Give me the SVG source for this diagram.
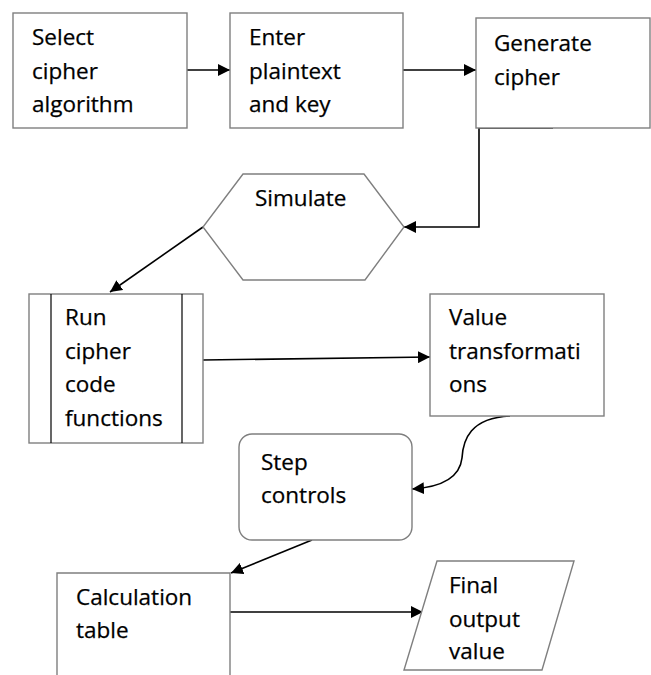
<svg xmlns="http://www.w3.org/2000/svg" width="651" height="675" viewBox="0 0 651 675">
<defs>
<marker id="arr" viewBox="0 0 10 10" refX="10" refY="5" markerWidth="12" markerHeight="12" markerUnits="userSpaceOnUse" orient="auto">
<path d="M0,0 L10,5 L0,10 Z" fill="#000"/>
</marker>
<style>
.shape{fill:#fff;stroke:#7f7f7f;stroke-width:1.4}
.lbl{font-family:"Open Sans","Noto Sans",sans-serif;font-size:22.5px;fill:#000;stroke:#000;stroke-width:0.25}
.conn{fill:none;stroke:#000;stroke-width:1.6;marker-end:url(#arr)}
</style>
</defs>
<rect width="651" height="675" fill="#fff"/>
<g id="connectors">
<path class="conn" d="M187,70 H230"/>
<path class="conn" d="M403,70 H476"/>
<path class="conn" d="M553,128 H479 V227 H404"/>
<path class="conn" d="M203,227 L110,292"/>
<path class="conn" d="M203,360 L430,357"/>
<path class="conn" d="M510,416 C470,418 463,440 462,458 C460,476 444,487 412,489"/>
<path class="conn" d="M312,540 L231,573"/>
<path class="conn" d="M230,612 H423"/>
</g>
<g id="select">
<rect class="shape" x="13" y="13" width="174" height="115"/>
<text class="lbl" x="32" y="45">Select</text>
<text class="lbl" x="32" y="79">cipher</text>
<text class="lbl" x="32" y="112">algorithm</text>
</g>
<g id="enter">
<rect class="shape" x="230" y="13" width="173" height="115"/>
<text class="lbl" x="249" y="45">Enter</text>
<text class="lbl" x="249" y="79">plaintext</text>
<text class="lbl" x="249" y="112">and key</text>
</g>
<g id="generate">
<rect class="shape" x="476" y="18" width="174" height="110"/>
<text class="lbl" x="494" y="51">Generate</text>
<text class="lbl" x="494" y="85">cipher</text>
</g>
<g id="simulate">
<polygon class="shape" points="243,174 364,174 404,227 365,280 243,280 203,227"/>
<text class="lbl" x="255" y="206">Simulate</text>
</g>
<g id="run">
<rect class="shape" x="29" y="294" width="174" height="149"/>
<line x1="51" y1="294" x2="51" y2="443" stroke="#000" stroke-width="1.2"/>
<line x1="182" y1="294" x2="182" y2="443" stroke="#000" stroke-width="1.2"/>
<text class="lbl" x="65" y="325">Run</text>
<text class="lbl" x="65" y="359">cipher</text>
<text class="lbl" x="65" y="392">code</text>
<text class="lbl" x="65" y="426">functions</text>
</g>
<g id="value">
<rect class="shape" x="430" y="294" width="174" height="122"/>
<text class="lbl" x="449" y="325">Value</text>
<text class="lbl" x="449" y="359">transformati</text>
<text class="lbl" x="449" y="392">ons</text>
</g>
<g id="step">
<rect class="shape" x="239" y="434" width="173" height="106" rx="13"/>
<text class="lbl" x="261" y="470">Step</text>
<text class="lbl" x="261" y="503">controls</text>
</g>
<g id="calc">
<path class="shape" d="M57,680 V573 H230 V680"/>
<text class="lbl" x="76" y="605">Calculation</text>
<text class="lbl" x="76" y="638">table</text>
</g>
<g id="final">
<polygon class="shape" points="437,561 574,561 542,670 404,670"/>
<text class="lbl" x="449" y="593">Final</text>
<text class="lbl" x="449" y="627">output</text>
<text class="lbl" x="449" y="659">value</text>
</g>
</svg>
